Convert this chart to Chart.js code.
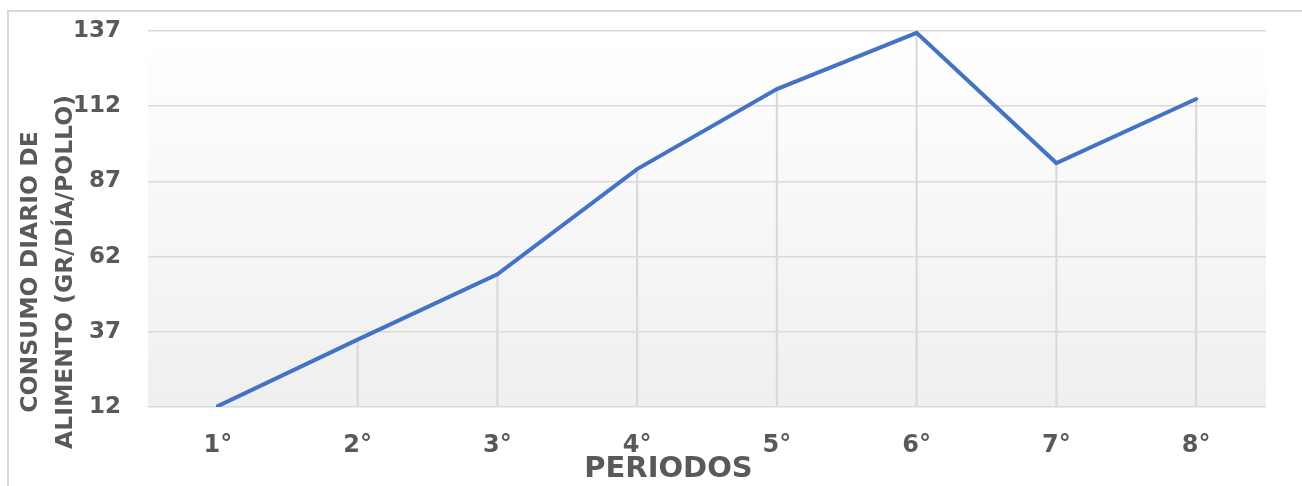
<!DOCTYPE html>
<html>
<head>
<meta charset="utf-8">
<script src="https://cdn.jsdelivr.net/npm/chart.js@4.4.1/dist/chart.umd.min.js"></script>
<style>
  html, body { margin: 0; padding: 0; background: #ffffff; overflow: hidden; }
  #frame { position: absolute; left: 7px; top: 10px; width: 1400px; height: 600px;
           border-left: 2px solid #d9d9d9; border-top: 2px solid #d9d9d9; }
  #box { position: absolute; left: 0; top: 0; width: 1302px; height: 486px; }
</style>
</head>
<body>
<div id="frame"></div>
<div id="box"><canvas id="c" width="1302" height="486"></canvas></div>
<script>
const categories = ['1°', '2°', '3°', '4°', '5°', '6°', '7°', '8°'];
const consumo = [12.3, 34.4, 56.1, 91.1, 117.7, 136.4, 93.1, 114.4];
const yTickMin = 12;
const yTickMax = 137;
const yTickStep = 25;
const yTitleLines = ['CONSUMO DIARIO DE', 'ALIMENTO (GR/DÍA/POLLO)'];
const xTitle = 'PERIODOS';

const TEXT = '#595959';
const GRID = '#d9d9d9';

const bgPlugin = {
  id: 'plotBg',
  beforeDraw(chart) {
    const { ctx, chartArea: a } = chart;
    const g = ctx.createLinearGradient(0, a.top, 0, a.bottom);
    g.addColorStop(0, '#ffffff');
    g.addColorStop(1, '#efefef');
    ctx.save();
    ctx.fillStyle = g;
    ctx.fillRect(a.left, a.top, a.right - a.left, a.bottom - a.top);
    ctx.restore();
  }
};

const titlesPlugin = {
  id: 'axisTitles',
  afterDraw(chart) {
    const ctx = chart.ctx;
    ctx.save();
    ctx.fillStyle = TEXT;
    ctx.font = 'bold 23.5px "DejaVu Sans"';
    ctx.textAlign = 'center';
    ctx.textBaseline = 'alphabetic';
    const baseX = [37, 71.5];
    yTitleLines.forEach((t, i) => {
      ctx.save();
      ctx.translate(baseX[i], 272);
      ctx.rotate(-Math.PI / 2);
      ctx.fillText(t, 0, 0);
      ctx.restore();
    });
    ctx.font = 'bold 29px "DejaVu Sans"';
    ctx.textAlign = 'center';
    ctx.textBaseline = 'alphabetic';
    ctx.fillText(xTitle, 668.5, 477);
    ctx.restore();
  }
};

new Chart(document.getElementById('c'), {
  data: {
    labels: categories,
    datasets: [
      {
        type: 'line',
        data: consumo,
        borderColor: '#4472C4',
        borderWidth: 4,
        pointRadius: 0,
        tension: 0,
        borderCapStyle: 'round',
        borderJoinStyle: 'miter',
        order: 1
      },
      {
        type: 'bar',
        data: consumo,
        backgroundColor: GRID,
        barThickness: 1.5,
        order: 2
      }
    ]
  },
  options: {
    responsive: false,
    animation: false,
    layout: { padding: { left: 0, right: 36, top: 31, bottom: 0 } },
    plugins: { legend: { display: false }, tooltip: { enabled: false } },
    scales: {
      x: {
        offset: true,
        grid: { display: false, drawTicks: false },
        border: { display: false },
        ticks: { color: TEXT, font: { family: 'DejaVu Sans', weight: 'bold', size: 24 }, padding: 24, maxRotation: 0 },
        afterFit(s) { s.height = 79; }
      },
      y: {
        min: yTickMin,
        max: yTickMax,
        grid: { color: GRID, lineWidth: 1.5, drawTicks: true, tickLength: 27, tickColor: 'rgba(0,0,0,0)' },
        border: { display: false },
        ticks: { stepSize: yTickStep, color: TEXT, font: { family: 'DejaVu Sans', weight: 'bold', size: 23 }, padding: 0 },
        afterFit(s) { s.width = 148; }
      }
    }
  },
  plugins: [bgPlugin, titlesPlugin]
});
</script>
</body>
</html>
